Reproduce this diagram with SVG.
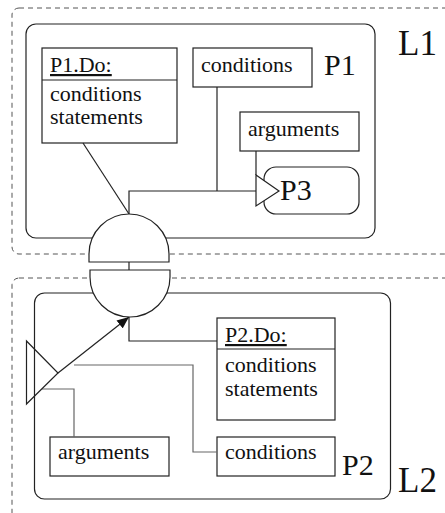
<svg xmlns="http://www.w3.org/2000/svg" width="445" height="513" viewBox="0 0 445 513">
<defs>
<style>
.frame{fill:none;stroke:#555;stroke-width:1;stroke-dasharray:5,4}
.proc{fill:#fff;stroke:#222;stroke-width:1.2}
.box{fill:#fff;stroke:#222;stroke-width:1.2}
.ln{fill:none;stroke:#222;stroke-width:1.2}
.gl{fill:none;stroke:#666;stroke-width:1.2}
.port{fill:#fff;stroke:#222;stroke-width:1.2}
text{font-family:"Liberation Serif","Times New Roman",serif;fill:#111}
.t{font-size:22px}
.lab{font-size:30px}
.big{font-size:35px}
</style>
<marker id="ah" markerWidth="12" markerHeight="10" refX="12" refY="5" orient="auto" markerUnits="userSpaceOnUse">
<path d="M0,0 L12,5 L0,10 Z" fill="#111"/>
</marker>
</defs>
<g id="L1">
<rect class="frame" x="12" y="8" width="460" height="246" rx="7"/>
<text class="big" x="398" y="55">L1</text>
</g>
<g id="L2">
<rect class="frame" x="12" y="278" width="460" height="260" rx="7"/>
<text class="big" x="398" y="492">L2</text>
</g>
<g id="P1">
<rect class="proc" x="26" y="24" width="349" height="214" rx="10"/>
<text class="lab" x="324" y="75">P1</text>
</g>
<g id="P2">
<rect class="proc" x="34.5" y="293" width="356" height="206" rx="10"/>
<text class="lab" x="342" y="475">P2</text>
</g>
<g id="P1Do">
<rect class="box" x="42" y="48" width="135" height="95"/>
<line class="ln" x1="42" y1="80" x2="177" y2="80"/>
<text class="t" x="50" y="72" text-decoration="underline">P1.Do:</text>
<text class="t" x="50" y="101">conditions</text>
<text class="t" x="50" y="124">statements</text>
</g>
<g id="P1cond">
<rect class="box" x="193" y="48" width="119" height="39"/>
<text class="t" x="201" y="72">conditions</text>
</g>
<g id="P1args">
<rect class="box" x="240" y="112" width="119" height="39"/>
<text class="t" x="248" y="136">arguments</text>
</g>
<g id="P3">
<rect class="proc" x="264" y="167" width="95" height="47" rx="12"/>
<text class="lab" x="280" y="200">P3</text>
</g>
<g id="P2Do">
<rect class="box" x="217" y="318" width="118" height="102"/>
<line class="ln" x1="217" y1="349" x2="335" y2="349"/>
<text class="t" x="225" y="342" text-decoration="underline">P2.Do:</text>
<text class="t" x="225" y="372">conditions</text>
<text class="t" x="225" y="396">statements</text>
</g>
<g id="P2args">
<rect class="box" x="50" y="437" width="119" height="39"/>
<text class="t" x="58" y="459">arguments</text>
</g>
<g id="P2cond">
<rect class="box" x="217" y="437" width="118" height="39"/>
<text class="t" x="225" y="459">conditions</text>
</g>
<g id="connectors">
<line class="ln" x1="83" y1="143" x2="129" y2="214"/>
<polyline class="ln" points="129,214 129,191 256,191"/>
<line class="ln" x1="217" y1="87" x2="217" y2="191"/>
<line class="ln" x1="256" y1="151" x2="256" y2="175"/>
<line class="ln" x1="129" y1="262" x2="129" y2="270"/>
<polyline class="ln" points="129,317 129,341 217,341"/>
<line class="ln" x1="58" y1="373" x2="129" y2="317" marker-end="url(#ah)"/>
<polyline class="gl" points="42,389 74,389 74,437"/>
<polyline class="gl" points="74,365 193,365 193,452 217,452"/>
</g>
<g id="portUp">
<path class="port" d="M89,254 A40,40 0 0 1 169,254 L169,262 L89,262 Z"/>
</g>
<g id="portDown">
<path class="port" d="M90,270 L170,270 L170,277 A40,40 0 0 1 90,277 Z"/>
</g>
<g id="P3in">
<polygon class="port" points="256,175 279,191 256,206"/>
</g>
<g id="P2out">
<polygon class="ln" points="26.5,341 58,373 26.5,404"/>
</g>
</svg>
